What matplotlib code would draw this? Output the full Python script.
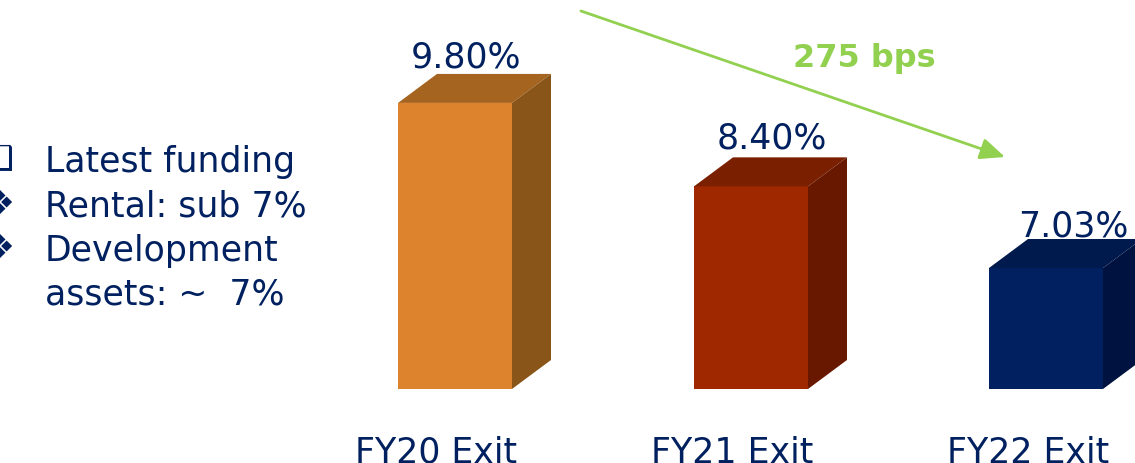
import matplotlib
matplotlib.use("Agg")
import matplotlib.pyplot as plt
from matplotlib.patches import Polygon

categories = ["FY20 Exit", "FY21 Exit", "FY22 Exit"]
values = [9.80, 8.40, 7.03]
value_labels = ["9.80%", "8.40%", "7.03%"]
front_colors = ["#DD832E", "#A02800", "#002060"]
top_colors = ["#A56520", "#7A2000", "#001A4D"]
side_colors = ["#8A5519", "#691800", "#00123F"]
bullet_lines = ["Latest funding", "Rental: sub 7%", "Development", "assets: ~  7%"]
bullet_marks = ["\u2751", "\u2756", "\u2756", ""]
change_label = "275 bps"

NAVY = "#002060"
GREEN = "#92D050"
FONT = "DejaVu Sans"
SIZE = 25

W, H = 1135, 464
BASE = 5.0
PX_PER_UNIT = 59.6
BASE_PX = 390

fig = plt.figure(figsize=(W / 100, H / 100), dpi=100)

# value axis: bars start at 5%, not zero
ax = fig.add_axes([0, 0, 1, 1])
ax.set_xlim(0, W)
ax.set_ylim(BASE - (H - BASE_PX) / PX_PER_UNIT, BASE + BASE_PX / PX_PER_UNIT)
ax.axis("off")

# overlay in pixels, for the text and arrow
txt = fig.add_axes([0, 0, 1, 1])
txt.set_xlim(0, W)
txt.set_ylim(H, 0)
txt.axis("off")
txt.patch.set_alpha(0)

bar_left = [398, 694, 989]
bar_width = 114
depth_x = 39
depth_y = 29 / PX_PER_UNIT


def draw_bar(x, v, front, top, side):
    r = x + bar_width
    ax.add_patch(Polygon([(x, BASE), (r, BASE), (r, v), (x, v)], color=front, lw=0))
    ax.add_patch(Polygon([(x, v), (r, v), (r + depth_x, v + depth_y), (x + depth_x, v + depth_y)],
                         color=top, lw=0))
    ax.add_patch(Polygon([(r, BASE), (r + depth_x, BASE + depth_y), (r + depth_x, v + depth_y), (r, v)],
                         color=side, lw=0))


for i, v in enumerate(values):
    draw_bar(bar_left[i], v, front_colors[i], top_colors[i], side_colors[i])

label_x = [466, 772, 1073]
label_y = [68, 149, 237]
cat_x = [436, 732, 1028]
for i in range(len(values)):
    txt.text(label_x[i], label_y[i], value_labels[i], color=NAVY, family=FONT, fontsize=SIZE,
             ha="center", va="baseline")
    txt.text(cat_x[i], 463, categories[i], color=NAVY, family=FONT, fontsize=SIZE,
             ha="center", va="baseline")

# left hand notes
note_y = [172, 217, 261, 305]
for mark, line, y in zip(bullet_marks, bullet_lines, note_y):
    txt.text(45, y, line, color=NAVY, family=FONT, fontsize=SIZE, ha="left", va="baseline")
    if mark:
        txt.text(-16, y - 3, mark, color=NAVY, family="DejaVu Sans", fontsize=24, fontweight="bold",
                 ha="left", va="baseline")

txt.annotate("", xy=(1005, 158), xytext=(581, 12),
             arrowprops=dict(arrowstyle="-|>,head_length=1.5,head_width=0.65", color=GREEN, lw=2,
                             shrinkA=0, shrinkB=0))
txt.text(864, 67, change_label, color=GREEN, family=FONT, fontweight="bold", fontsize=23,
         ha="center", va="baseline")

fig.savefig("out.png", dpi=100)
